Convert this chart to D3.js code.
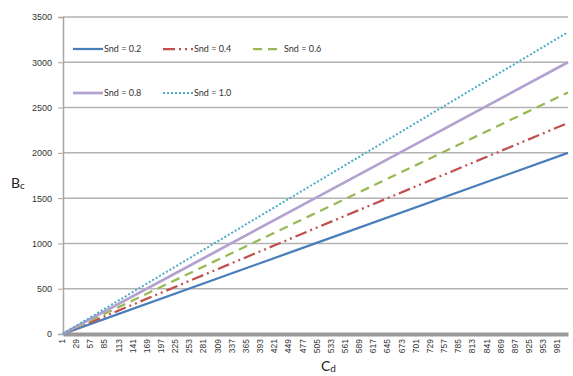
<!DOCTYPE html>
<html>
<head>
<meta charset="utf-8">
<script src="https://cdn.jsdelivr.net/npm/d3@7"></script>
<style>
  body { margin: 0; background: #fff; }
  svg { display: block; font-family: Lato, "Open Sans", sans-serif; }
</style>
</head>
<body>
<svg id="chart" width="573" height="376"></svg>
<script>
// data
var cdPoints = [1, 500, 1000];
var snd02 = [2, 1000, 2000];
var snd04 = [2, 1167, 2330];
var snd06 = [3, 1333, 2667];
var snd08 = [3, 1500, 3000];
var snd10 = [3, 1667, 3333];
var seriesNames = ["Snd = 0.2", "Snd = 0.4", "Snd = 0.6", "Snd = 0.8", "Snd = 1.0"];
var xTickLabels = [1, 29, 57, 85, 113, 141, 169, 197, 225, 253, 281, 309, 337, 365, 393, 421, 449,
    477, 505, 533, 561, 589, 617, 645, 673, 701, 729, 757, 785, 813, 841, 869, 897, 925, 953, 981];
var yTickLabels = [0, 500, 1000, 1500, 2000, 2500, 3000, 3500];

var svg = d3.select("#chart");
var plotLeft = 63, plotRight = 568, plotTop = 17, plotBottom = 334;

var x = d3.scaleLinear().domain([1, 1000]).range([plotLeft, plotRight]);
var y = d3.scaleLinear().domain([0, 3500]).range([plotBottom, plotTop]);

// gridlines
svg.append("g").selectAll("line")
    .data(yTickLabels.filter(function(d){ return d > 0; }))
    .enter().append("line")
    .attr("x1", plotLeft).attr("x2", plotRight)
    .attr("y1", function(d){ return y(d); })
    .attr("y2", function(d){ return y(d); })
    .attr("stroke", "#b3b3b3")
    .attr("stroke-width", 1.5);

// y axis
var yAxis = svg.append("g")
    .attr("transform", "translate(" + plotLeft + ",0)")
    .call(d3.axisLeft(y).tickValues(yTickLabels).tickFormat(d3.format("d")).tickSize(5).tickPadding(6));
yAxis.select(".domain").attr("stroke", "#a6a6a6").attr("stroke-width", 1.5);
yAxis.selectAll(".tick line").attr("stroke", "#a6a6a6");
yAxis.selectAll("text").attr("font-size", "9px").attr("fill", "#333");

// x axis
var xAxis = svg.append("g")
    .attr("transform", "translate(0," + plotBottom + ")")
    .call(d3.axisBottom(x).tickValues(xTickLabels).tickSize(0).tickPadding(4));
xAxis.select(".domain").attr("stroke", "#9a9a9a").attr("stroke-width", 4);
xAxis.selectAll("text")
    .attr("font-size", "8.5px")
    .attr("fill", "#333")
    .attr("transform", "rotate(-90)")
    .attr("text-anchor", "end")
    .attr("dx", "-5px")
    .attr("dy", "-0.3em");

// series
var styles = [
    { color: "#4a7ebb", width: 2.25, dash: null },
    { color: "#c0504d", width: 2.25, dash: "12,4,2,4,2,4" },
    { color: "#98b954", width: 2.25, dash: "9,6" },
    { color: "#b3a2d0", width: 2.75, dash: null },
    { color: "#4bacc6", width: 2, dash: "2,2" }
];
var allSeries = [snd02, snd04, snd06, snd08, snd10];

var line = d3.line()
    .x(function(d, i){ return x(cdPoints[i]); })
    .y(function(d){ return y(d); });

allSeries.forEach(function(vals, i) {
    svg.append("path")
        .datum(vals)
        .attr("d", line)
        .attr("fill", "none")
        .attr("stroke", styles[i].color)
        .attr("stroke-width", styles[i].width)
        .attr("stroke-dasharray", styles[i].dash);
});

// legend
var legendPos = [[73, 49], [163, 49], [253, 49], [73, 93], [163, 93]];
seriesNames.forEach(function(name, i) {
    var g = svg.append("g").attr("transform", "translate(" + legendPos[i][0] + "," + legendPos[i][1] + ")");
    g.append("line")
        .attr("x1", 0).attr("x2", 30)
        .attr("stroke", styles[i].color)
        .attr("stroke-width", styles[i].width)
        .attr("stroke-dasharray", styles[i].dash);
    g.append("text")
        .attr("x", 31).attr("y", 3)
        .attr("font-size", "9px")
        .attr("fill", "#333")
        .text(name);
});

// axis titles
var yt = svg.append("text").attr("x", 11).attr("y", 188).attr("fill", "#222");
yt.append("tspan").attr("font-size", "14px").text("B");
yt.append("tspan").attr("font-size", "10px").attr("dy", "1").text("c");

var xt = svg.append("text").attr("x", 321).attr("y", 371).attr("fill", "#222");
xt.append("tspan").attr("font-size", "14px").text("C");
xt.append("tspan").attr("font-size", "10px").attr("dy", "1").text("d");
</script>
</body>
</html>
